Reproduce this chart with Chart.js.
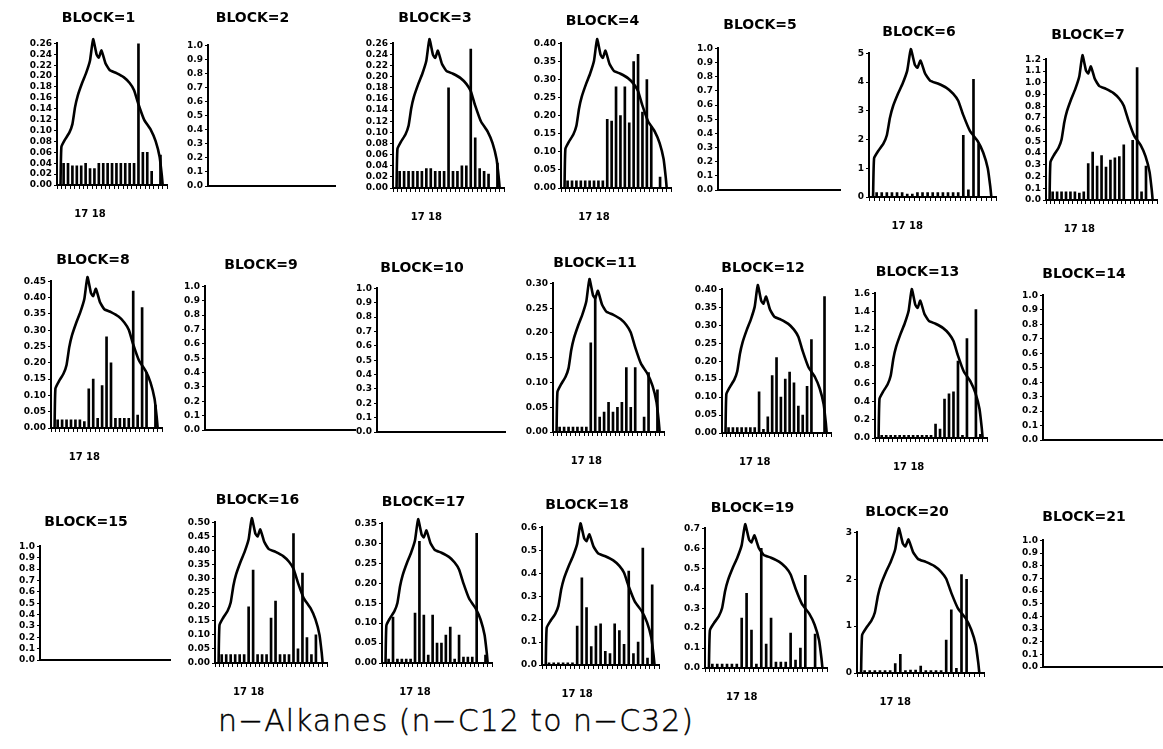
<!DOCTYPE html>
<html><head><meta charset="utf-8">
<script src="https://cdn.jsdelivr.net/npm/chart.js@4.4.0/dist/chart.umd.min.js"></script>
<style>
html,body{margin:0;padding:0;background:#fff;width:1163px;height:749px;overflow:hidden;position:relative}
canvas{position:absolute}
#caption{position:absolute;left:56px;top:703px;width:800px;text-align:center;font-family:'DejaVu Sans',sans-serif;font-weight:200;font-size:30px;line-height:36px;letter-spacing:1px;color:#000;white-space:nowrap;-webkit-text-stroke:0.4px #000}
</style></head><body>
<div id="caption">n−Alkanes (n−C12 to n−C32)</div>
<script>
// categories (bar positions 1..23)
const categories = ['C12','C13','C14','C15','C16','C17','Pr','C18','Ph','C19','C20','C21','C22','C23','C24','C25','C26','C27','C28','C29','C30','C31','C32'];
const xTickLabel = '17 18';
// reference curve (x in bar-position units, y as fraction of panel maximum)
const curveX = [0.3,0.5,1.3,2.3,3.0,3.6,4.2,5.2,6.1,7.0,7.7,8.5,9.0,9.6,10.5,11.5,13.0,14.7,16.0,17.0,18.0,19.3,20.8,21.9,22.8,23.3,23.5];
const curveY = [0,0.27,0.32,0.37,0.43,0.55,0.63,0.72,0.79,0.88,1.03,0.92,0.90,0.95,0.86,0.81,0.79,0.76,0.72,0.67,0.57,0.46,0.39,0.31,0.20,0.07,0];

const block1 = [0.04,0.04,0.035,0.035,0.035,0.04,0.03,0.03,0.04,0.04,0.04,0.04,0.04,0.04,0.04,0.04,0.04,0.27,0.06,0.06,0.025,0,0.055];
const block2 = null;
const block3 = [0.03,0.03,0.03,0.03,0.03,0.03,0.035,0.035,0.03,0.03,0.03,0.18,0.03,0.03,0.04,0.04,0.25,0.09,0.035,0.03,0.025,0,0.045];
const block4 = [0.02,0.02,0.02,0.02,0.02,0.02,0.02,0.02,0.02,0.19,0.185,0.28,0.20,0.28,0.18,0.35,0.37,0.21,0.30,0.17,0,0.03,0];
const block5 = null;
const block6 = [0.15,0.15,0.15,0.15,0.15,0.15,0.1,0.1,0.15,0.15,0.15,0.15,0.15,0.15,0.15,0.15,0.15,2.15,0.25,4.1,1.85,0,0];
const block7 = [0.07,0.07,0.07,0.07,0.07,0.07,0.06,0.07,0.31,0.41,0.29,0.38,0.28,0.34,0.36,0.37,0.47,0,0.51,1.13,0.07,0.29,0];
const block8 = [0.025,0.025,0.025,0.025,0.025,0.025,0.02,0.12,0.15,0.03,0.13,0.28,0.20,0.03,0.03,0.03,0.03,0.42,0.04,0.37,0.17,0,0.07];
const block9 = null;
const block10 = null;
const block11 = [0.01,0.01,0.01,0.01,0.01,0.01,0.01,0.18,0.275,0.03,0.04,0.06,0.04,0.05,0.06,0.13,0.05,0.13,0,0.03,0.12,0,0.085];
const block12 = [0.015,0.015,0.015,0.015,0.015,0.015,0.015,0.115,0.01,0.045,0.16,0.21,0.10,0.15,0.17,0.14,0.075,0.05,0.13,0.26,0,0,0.38];
const block13 = [0.03,0.03,0.03,0.03,0.03,0.03,0.03,0.03,0.03,0.03,0.03,0.03,0.155,0.10,0.43,0.49,0.51,0.85,0.03,1.1,0,1.42,0.04];
const block14 = null;
const block15 = null;
const block16 = [0.03,0.03,0.03,0.03,0.03,0.03,0.2,0.33,0.03,0.03,0.03,0.16,0.22,0.03,0.03,0.03,0.46,0.05,0.32,0.09,0.03,0.1,0];
const block17 = [0.01,0.115,0.01,0.01,0.01,0.01,0.125,0.305,0.12,0.02,0.12,0.05,0.05,0.07,0.09,0.01,0.07,0.015,0.015,0.015,0.325,0,0.02];
const block18 = [0.01,0.01,0.01,0.01,0.01,0.01,0.17,0.38,0.25,0.08,0.17,0.18,0.06,0.05,0.18,0.15,0.09,0.41,0.05,0.1,0.51,0.03,0.35];
const block19 = [0.02,0.02,0.02,0.02,0.02,0.02,0.25,0.375,0.19,0.02,0.6,0.12,0.25,0.03,0.03,0.03,0.175,0.04,0.1,0.465,0,0.17,0];
const block20 = [0.05,0.05,0.05,0.05,0.05,0.05,0.2,0.4,0.05,0.06,0.06,0.15,0.05,0.05,0.05,0.05,0.7,1.35,0.1,2.1,2.0,0,0];
const block21 = null;

const blockValues = [block1,block2,block3,block4,block5,block6,block7,block8,block9,block10,block11,block12,block13,block14,block15,block16,block17,block18,block19,block20,block21];
const yMaxes = [0.26,1,0.26,0.40,1,5,1.2,0.45,1,1,0.30,0.40,1.6,1,1,0.50,0.35,0.6,0.7,3,1];
const ySteps = [0.02,0.1,0.02,0.05,0.1,1,0.1,0.05,0.1,0.1,0.05,0.05,0.2,0.1,0.1,0.05,0.05,0.1,0.1,1,0.1];

// layout: [axis x, plot right, title centre y, plot top y, zero line y]
const panelBoxes = [
  [57,178,18,43,185],[208,335,18,45,186],[393,515,18,43,188],[561,682,21,43,188],[718,840,25,48,190],[869,1007,32,53,197],[1046,1168,35,59,200],
  [51,173,260,281,428],[205,355,265,286,430],[377,505,268,288,432],[553,675,263,283,432],[722,842,268,289,433],[875,998,272,293,438],[1043,1163,274,295,440],
  [40,170,522,546,660],[215,338,500,522,663],[382,503,502,523,663],[542,670,505,527,665],[705,838,508,528,668],[857,995,512,532,673],[1043,1163,517,540,667]
];

const YW = 38, XH = 44, TF = 14, FAM = "'DejaVu Sans', sans-serif";

function makePanel(i){
  const [ax, rx, ty, top, zero] = panelBoxes[i];
  const values = blockValues[i];
  const step = ySteps[i];
  const dec = step < 0.1 ? 2 : (step < 1 ? 1 : 0);
  const cTop = ty - TF*0.6;
  const w = YW + (rx - ax) + 6;
  const h = (zero - cTop) + XH;
  const canvas = document.createElement('canvas');
  canvas.width = Math.round(w); canvas.height = Math.round(h);
  canvas.style.left = (ax - YW) + 'px';
  canvas.style.top = cTop + 'px';
  document.body.appendChild(canvas);
  const datasets = [];
  if (values){
    datasets.push({type:'line', data: curveX.map((x,k)=>({x:x, y:curveY[k]})), xAxisID:'x', yAxisID:'y2',
      borderColor:'#000', borderWidth:2.6, pointRadius:0, clip:false, tension:0.15});
    datasets.push({type:'bar', label:'values', data: values.map((v,k)=>({x:k+1, y:v})), xAxisID:'x', yAxisID:'y',
      backgroundColor:'#000', barThickness:2});
  }
  new Chart(canvas, {
    type:'bar',
    data:{datasets},
    options:{
      responsive:false, animation:false, devicePixelRatio:1,
      layout:{padding:{top:0,right:6,bottom:0,left:0}},
      plugins:{
        legend:{display:false}, tooltip:{enabled:false},
        title:{display:true, text:'BLOCK='+(i+1), color:'#000',
          font:{family:FAM, weight:'bold', size:TF, lineHeight:1.2},
          padding:{top:0, bottom: top - ty - TF*0.6}}
      },
      scales:{
        x:{type:'linear', min:0, max:24, afterFit:s=>{s.height = XH;},
          border:{display:true, color:'#000', width:2},
          grid:{display:!!values, drawOnChartArea:false, drawTicks:true, tickLength:4, color:'#000', lineWidth:1},
          ticks:{display:!!values, stepSize:1, autoSkip:false, maxRotation:0, padding:19, color:'#000',
            font:{family:FAM, weight:'bold', size:10},
            callback:v => v === categories.indexOf('Pr')+1 ? xTickLabel : ''}},
        y:{type:'linear', min:0, max:yMaxes[i], afterFit:s=>{s.width = YW;},
          border:{display:true, color:'#000', width:2},
          grid:{drawOnChartArea:false, drawTicks:true, tickLength:3, color:'#000'},
          ticks:{stepSize:step, autoSkip:false, padding:2, color:'#000',
            font:{family:FAM, weight:'bold', size:9},
            callback:v => Number(v).toFixed(dec)}},
        y2:{type:'linear', display:false, min:0, max:1}
      }
    }
  });
}
for (let i=0;i<21;i++) makePanel(i);
</script>
</body></html>
